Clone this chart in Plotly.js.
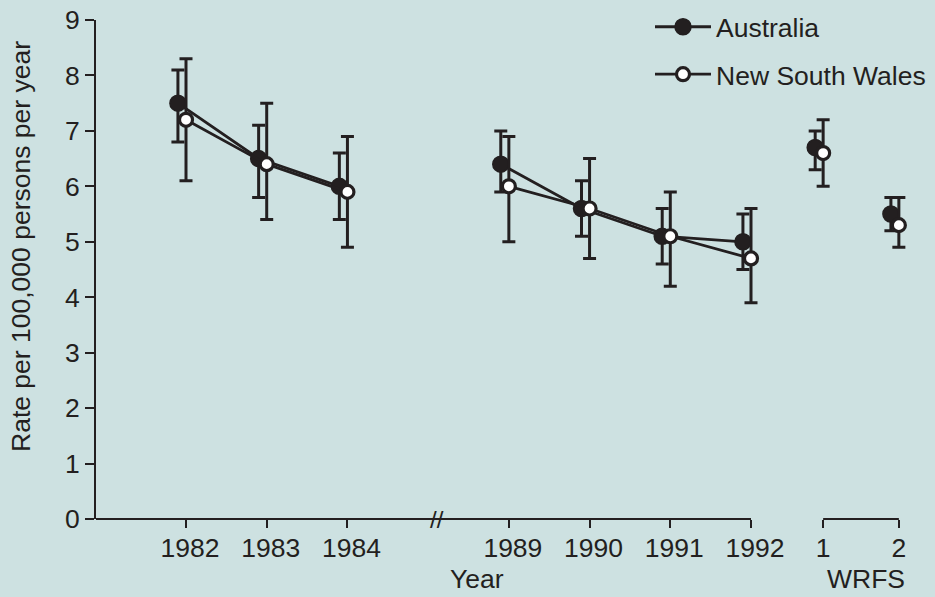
<!DOCTYPE html>
<html>
<head>
<meta charset="utf-8">
<script src="https://cdn.plot.ly/plotly-3.0.1.min.js"></script>
<style>
  html, body { margin: 0; padding: 0; background: #cde1e1; }
  #chart { width: 935px; height: 597px; }
</style>
</head>
<body>
<div id="chart"></div>
<script>
// ---- Data ----
const years = [1982, 1983, 1984, 1989, 1990, 1991, 1992];

const ausRate  = [7.5, 6.5, 6.0, 6.4, 5.6, 5.1, 5.0];
const ausUpper = [8.1, 7.1, 6.6, 7.0, 6.1, 5.6, 5.5];
const ausLower = [6.8, 5.8, 5.4, 5.9, 5.1, 4.6, 4.5];

const nswRate  = [7.2, 6.4, 5.9, 6.0, 5.6, 5.1, 4.7];
const nswUpper = [8.3, 7.5, 6.9, 6.9, 6.5, 5.9, 5.6];
const nswLower = [6.1, 5.4, 4.9, 5.0, 4.7, 4.2, 3.9];

const wrfsLabels = ['1', '2'];
const wrfsIndex  = [1, 2];
const ausWrfsRate  = [6.7, 5.5];
const ausWrfsUpper = [7.0, 5.8];
const ausWrfsLower = [6.3, 5.2];
const nswWrfsRate  = [6.6, 5.3];
const nswWrfsUpper = [7.2, 5.8];
const nswWrfsLower = [6.0, 4.9];

const seriesNames = ['Australia', 'New South Wales'];

// ---- Axis break: years after the break are pulled in, leaving one empty slot ----
const breakAfter = 1984;
const breakResume = 1989;
function pos(y) { return y <= breakAfter ? y - years[0] : y - years[0] - (breakResume - breakAfter) + 2; }

// Build a line series with a gap across the break
function buildSeries(vals, upper, lower, shift) {
  const x = [], y = [], ep = [], em = [];
  years.forEach((yr, i) => {
    if (i > 0 && years[i - 1] <= breakAfter && yr >= breakResume) {
      x.push(null); y.push(null); ep.push(null); em.push(null);
    }
    x.push(pos(yr) + shift);
    y.push(vals[i]);
    ep.push(+(upper[i] - vals[i]).toFixed(2));
    em.push(+(vals[i] - lower[i]).toFixed(2));
  });
  return { x, y, ep, em };
}

const ink = '#231f20';
const bg = '#cde1e1';
const fontFam = '"Liberation Sans", Arial, Helvetica, sans-serif';
const FS = 26.5;

const aus = buildSeries(ausRate, ausUpper, ausLower, -0.1);
const nsw = buildSeries(nswRate, nswUpper, nswLower, 0);

function errY(ep, em) {
  return { type: 'data', symmetric: false, array: ep, arrayminus: em,
           color: ink, thickness: 3, width: 6.5 };
}

const ausMarker = { symbol: 'circle', size: 16, color: ink, line: { color: ink, width: 1.5 } };
const nswMarker = { symbol: 'circle', size: 13, color: '#ffffff', line: { color: ink, width: 3.2 } };

const traces = [
  {
    x: aus.x, y: aus.y, name: seriesNames[0], type: 'scatter', mode: 'lines+markers',
    connectgaps: false, legendgroup: 'a',
    line: { color: ink, width: 2.8 }, marker: ausMarker,
    error_y: errY(aus.ep, aus.em), cliponaxis: false
  },
  {
    x: nsw.x, y: nsw.y, name: seriesNames[1], type: 'scatter', mode: 'lines+markers',
    connectgaps: false, legendgroup: 'b',
    line: { color: ink, width: 2.8 }, marker: nswMarker,
    error_y: errY(nsw.ep, nsw.em), cliponaxis: false
  },
  {
    x: wrfsIndex.map(v => v - 0.105), y: ausWrfsRate, xaxis: 'x2', yaxis: 'y',
    type: 'scatter', mode: 'markers', showlegend: false, name: seriesNames[0],
    marker: ausMarker, cliponaxis: false,
    error_y: errY(ausWrfsUpper.map((u, i) => +(u - ausWrfsRate[i]).toFixed(2)),
                  ausWrfsLower.map((l, i) => +(ausWrfsRate[i] - l).toFixed(2)))
  },
  {
    x: wrfsIndex, y: nswWrfsRate, xaxis: 'x2', yaxis: 'y',
    type: 'scatter', mode: 'markers', showlegend: false, name: seriesNames[1],
    marker: nswMarker, cliponaxis: false,
    error_y: errY(nswWrfsUpper.map((u, i) => +(u - nswWrfsRate[i]).toFixed(2)),
                  nswWrfsLower.map((l, i) => +(nswWrfsRate[i] - l).toFixed(2)))
  }
];

const W = 935, H = 597;
const mL = 96, mR = 21, mT = 20, mB = 78;
const plotW = W - mL - mR;
const px = p => (p - mL) / plotW;        // paper-x from pixel
const py = p => (H - mB - p) / (H - mT - mB);

const xStart = -1.115, xLast = 7, xPad = 0.25;
const unitPx = (751 - 186) / 7;

const layout = {
  width: W, height: H,
  margin: { l: mL, r: mR, t: mT, b: mB, pad: 0, autoexpand: false },
  paper_bgcolor: bg, plot_bgcolor: bg,
  font: { family: fontFam, size: FS, color: ink },
  showlegend: true,
  legend: {
    x: px(650), y: py(3), xanchor: 'left', yanchor: 'top',
    bgcolor: 'rgba(0,0,0,0)', font: { family: fontFam, size: FS, color: ink },
    traceorder: 'grouped', tracegroupgap: 10, itemwidth: 56
  },
  xaxis: {
    domain: [0, px(751 + xPad * unitPx)], range: [xStart, xLast + xPad], anchor: 'y',
    tickmode: 'array', tickvals: years.map(pos), ticktext: years.map(String),
    showline: false,
    ticks: 'outside', ticklen: 8, tickwidth: 2, tickcolor: ink,
    showgrid: false, zeroline: false, ticklabelshift: 4, ticklabelstandoff: -3,
    tickfont: { family: fontFam, size: FS, color: ink }
  },
  xaxis2: {
    domain: [px(808), 1], range: [0.8, 2.2], anchor: 'y',
    tickmode: 'array', tickvals: wrfsIndex, ticktext: wrfsLabels,
    showline: false, ticks: 'outside', ticklen: 8, tickwidth: 2, tickcolor: ink,
    showgrid: false, zeroline: false, ticklabelstandoff: -3,
    tickfont: { family: fontFam, size: FS, color: ink }
  },
  yaxis: {
    range: [0, 9], dtick: 1, tick0: 0, anchor: 'x',
    showline: true, linecolor: ink, linewidth: 2,
    ticks: 'outside', ticklen: 9, tickwidth: 2, tickcolor: ink,
    showgrid: false, zeroline: false,
    tickfont: { family: fontFam, size: FS, color: ink }
  },
  shapes: [
    { type: 'line', xref: 'x', yref: 'paper', x0: xStart, x1: xLast, y0: 0, y1: 0,
      line: { color: ink, width: 2 } },
    { type: 'line', xref: 'x2', yref: 'paper', x0: 1, x1: 2, y0: 0, y1: 0,
      line: { color: ink, width: 2 } }
  ],
  annotations: [
    { text: 'Year', xref: 'paper', yref: 'paper', x: px(477), y: py(579),
      xanchor: 'center', yanchor: 'middle', showarrow: false,
      font: { family: fontFam, size: FS, color: ink } },
    { text: 'WRFS', xref: 'paper', yref: 'paper', x: px(866), y: py(579),
      xanchor: 'center', yanchor: 'middle', showarrow: false,
      font: { family: fontFam, size: FS, color: ink } },
    { text: 'Rate per 100,000 persons per year', xref: 'paper', yref: 'paper',
      x: px(21), y: py(247), xanchor: 'center', yanchor: 'middle', textangle: -90,
      showarrow: false, font: { family: fontFam, size: FS, color: ink } },
    { text: '//', xref: 'x', yref: 'paper', x: 3.11, y: 0,
      xanchor: 'center', yanchor: 'middle', showarrow: false,
      font: { family: fontFam, size: 24, color: ink } }
  ]
};

Plotly.newPlot('chart', traces, layout, { displayModeBar: false, staticPlot: true });
</script>
</body>
</html>
